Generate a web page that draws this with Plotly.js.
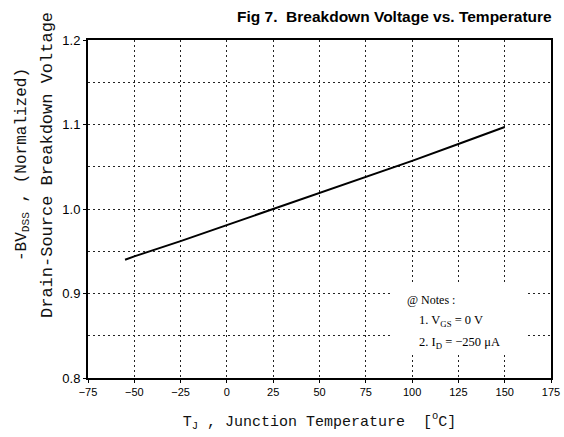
<!DOCTYPE html>
<html><head><meta charset="utf-8">
<script src="https://cdn.plot.ly/plotly-3.0.1.min.js"></script>
<style>html,body{margin:0;padding:0;background:#fff}</style>
</head><body>
<div id="chart" style="width:564px;height:437px"></div>
<script>
const temperature = [-55, -50, -25, 0, 25, 50, 75, 100, 125, 150];
const bvdss = [0.940, 0.944, 0.962, 0.981, 1.000, 1.019, 1.038, 1.057, 1.077, 1.097];
const xTicks = [-75, -50, -25, 0, 25, 50, 75, 100, 125, 150, 175];
const yTicks = [0.8, 0.9, 1.0, 1.1, 1.2];

const mono = 'Liberation Mono, Courier New, monospace';
const serif = 'Liberation Serif, Times New Roman, serif';
const sans = 'Liberation Sans, Arial, sans-serif';
const gridDash = '2px,3px';

const data = [{
  x: temperature, y: bvdss, type: 'scatter', mode: 'lines',
  line: {color: '#000', width: 2}, hoverinfo: 'none'
}];

const layout = {
  width: 564, height: 437,
  margin: {l: 88, r: 13, t: 40, b: 59},
  paper_bgcolor: '#fff', plot_bgcolor: '#fff',
  showlegend: false,
  xaxis: {
    range: [-75, 175], tickvals: xTicks, ticktext: xTicks.map(v => v < 0 ? '\u2212' + Math.abs(v) : String(v)),
    showgrid: true, gridcolor: '#222', griddash: gridDash, gridwidth: 1,
    zeroline: false, showline: true, linecolor: '#000', linewidth: 2, mirror: true,
    ticks: 'outside', ticklen: 3, tickcolor: '#000',
    tickfont: {family: sans, size: 11, color: '#000'},
    title: {text: 'T<sub>J</sub> , Junction Temperature  [<sup>o</sup>C]', font: {family: mono, size: 15, color: '#111'}, standoff: 18}
  },
  yaxis: {
    range: [0.8, 1.2], tickvals: yTicks, ticktext: yTicks.map(v => v.toFixed(1)),
    showgrid: true, gridcolor: '#222', griddash: gridDash, gridwidth: 1,
    minor: {dtick: 0.05, tick0: 0.8, showgrid: true, gridcolor: '#222', griddash: gridDash, gridwidth: 1, ticks: ''},
    zeroline: false, showline: true, linecolor: '#000', linewidth: 2, mirror: true,
    ticks: 'outside', ticklen: 3, tickcolor: '#000',
    tickfont: {family: sans, size: 13, color: '#000'}
  },
  shapes: [{
    type: 'rect', xref: 'paper', yref: 'paper', layer: 'above',
    x0: (392 - 88) / 463, x1: (526 - 88) / 463,
    y0: (378 - 355) / 338, y1: (378 - 283) / 338,
    fillcolor: '#fff', line: {width: 0}
  }],
  annotations: [
    {text: '<b>Fig 7.  Breakdown Voltage vs. Temperature</b>', xref: 'paper', yref: 'paper',
     x: (554 - 88) / 463, y: (378 - 17) / 338, xanchor: 'right', yanchor: 'middle', showarrow: false,
     font: {family: sans, size: 15.5, color: '#000'}},
    {text: '-BV<sub>DSS</sub> , (Normalized)', xref: 'paper', yref: 'paper',
     x: (22 - 88) / 463, y: (378 - 165) / 338, xanchor: 'center', yanchor: 'middle', textangle: -90, showarrow: false,
     font: {family: mono, size: 16, color: '#111'}},
    {text: 'Drain-Source Breakdown Voltage', xref: 'paper', yref: 'paper',
     x: (47 - 88) / 463, y: (378 - 165) / 338, xanchor: 'center', yanchor: 'middle', textangle: -90, showarrow: false,
     font: {family: mono, size: 17, color: '#111'}},
    {text: '@ Notes :', xref: 'paper', yref: 'paper',
     x: (405 - 88) / 463, y: (378 - 300) / 338, xanchor: 'left', yanchor: 'middle', showarrow: false,
     font: {family: serif, size: 12, color: '#000'}},
    {text: '1. V<sub>GS</sub> = 0 V', xref: 'paper', yref: 'paper',
     x: (417 - 88) / 463, y: (378 - 321) / 338, xanchor: 'left', yanchor: 'middle', showarrow: false,
     font: {family: serif, size: 12.5, color: '#000'}},
    {text: '2. I<sub>D</sub> = \u2212250 \u03bcA', xref: 'paper', yref: 'paper',
     x: (417 - 88) / 463, y: (378 - 343) / 338, xanchor: 'left', yanchor: 'middle', showarrow: false,
     font: {family: serif, size: 12.5, color: '#000'}}
  ]
};

Plotly.newPlot('chart', data, layout, {displayModeBar: false, staticPlot: true});
</script>
</body></html>
